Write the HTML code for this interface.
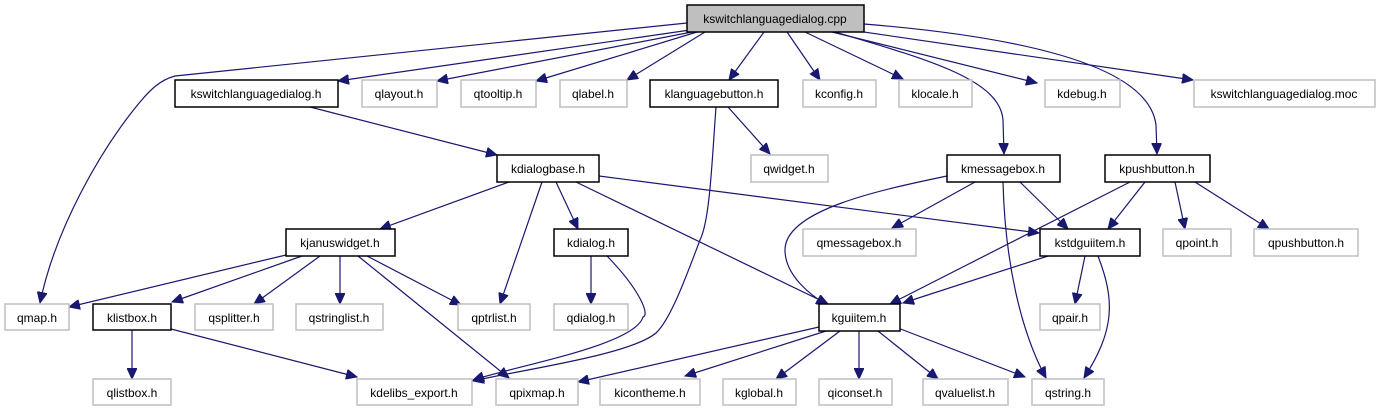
<!DOCTYPE html>
<html><head><meta charset="utf-8"><style>
html,body{margin:0;padding:0;background:#fff;}
svg{display:block;}
text{font-family:"Liberation Sans",sans-serif;font-size:12px;text-anchor:middle;fill:#000;}
.g{fill:#fff;stroke:#bfbfbf;stroke-width:1.5;}
.b{fill:#fff;stroke:#000;stroke-width:1.5;}
.e{fill:none;stroke:#191970;stroke-width:1.2;marker-end:url(#a);}
</style></head><body>
<svg width="1379" height="411" viewBox="0 0 1379 411" xmlns="http://www.w3.org/2000/svg">
<defs><marker id="a" markerUnits="userSpaceOnUse" markerWidth="12" markerHeight="10" refX="11" refY="5" orient="auto"><path d="M0,0 L11,5 L0,10 z" fill="#191970" stroke="#191970"/></marker></defs>
<path class="e" d="M687,23 L175,76 C160,80 150,90 140,102 C100,150 55,230 40,303"/>
<path class="e" d="M690,30 L338,81"/>
<path class="e" d="M692,32 L437,81"/>
<path class="e" d="M697,32 L536,81"/>
<path class="e" d="M705,32 L627,80"/>
<path class="e" d="M764,32 L729,80"/>
<path class="e" d="M787,32 L820,80"/>
<path class="e" d="M805,32 L903,79"/>
<path class="e" d="M835,32 C930,60 1000,80 1003,120 L1004,154"/>
<path class="e" d="M832,32 L1037,83"/>
<path class="e" d="M864,24 C1060,40 1150,75 1156,125 L1157,154"/>
<path class="e" d="M850,30 L1193,80"/>
<path class="e" d="M310,107 L497,155"/>
<path class="e" d="M728,107 L770,154"/>
<path class="e" d="M716,107 C712,160 710,220 700,240 C685,280 670,320 656,333 C630,355 520,370 473,381"/>
<path class="e" d="M607,256 C640,290 650,315 643,317 C635,345 520,365 473,380"/>
<path class="e" d="M509,182 L380,229"/>
<path class="e" d="M542,182 L500,304"/>
<path class="e" d="M556,182 L578,229"/>
<path class="e" d="M576,182 L828,304"/>
<path class="e" d="M599,176 L1039,233"/>
<path class="e" d="M286,255 L69,307"/>
<path class="e" d="M302,256 L172,302"/>
<path class="e" d="M320,256 L254,304"/>
<path class="e" d="M340,256 L340,304"/>
<path class="e" d="M358,256 L509,378"/>
<path class="e" d="M367,256 L461,305"/>
<path class="e" d="M591,256 L591,304"/>
<path class="e" d="M132,330 L132,379"/>
<path class="e" d="M171,329 L357,377"/>
<path class="e" d="M947,176 C880,190 785,210 785,250 C785,275 810,295 827,305"/>
<path class="e" d="M975,182 L892,228"/>
<path class="e" d="M1003,182 C1005,260 1020,330 1046,378"/>
<path class="e" d="M1020,182 L1068,229"/>
<path class="e" d="M1145,182 L1108,229"/>
<path class="e" d="M1130,182 L890,304"/>
<path class="e" d="M1175,182 L1185,229"/>
<path class="e" d="M1195,182 L1269,229"/>
<path class="e" d="M1048,256 L903,303"/>
<path class="e" d="M1085,256 L1075,304"/>
<path class="e" d="M1098,256 C1115,300 1115,330 1084,378"/>
<path class="e" d="M819,327 L578,382"/>
<path class="e" d="M826,331 L685,376"/>
<path class="e" d="M840,331 L776,379"/>
<path class="e" d="M859,331 L859,379"/>
<path class="e" d="M878,331 L938,379"/>
<path class="e" d="M898,328 L1025,377"/>
<rect x="687" y="5" width="177" height="27" fill="#bfbfbf" stroke="#000" stroke-width="1.5"/><text x="775" y="23">kswitchlanguagedialog.cpp</text>
<rect class="b" x="175" y="80" width="163" height="27"/><text x="256" y="98">kswitchlanguagedialog.h</text>
<rect class="g" x="362" y="80" width="75" height="27"/><text x="399" y="98">qlayout.h</text>
<rect class="g" x="461" y="80" width="75" height="27"/><text x="498" y="98">qtooltip.h</text>
<rect class="g" x="560" y="80" width="67" height="27"/><text x="593" y="98">qlabel.h</text>
<rect class="b" x="650" y="80" width="128" height="27"/><text x="714" y="98">klanguagebutton.h</text>
<rect class="g" x="803" y="80" width="73" height="27"/><text x="839" y="98">kconfig.h</text>
<rect class="g" x="899" y="80" width="73" height="27"/><text x="935" y="98">klocale.h</text>
<rect class="g" x="1045" y="80" width="75" height="27"/><text x="1082" y="98">kdebug.h</text>
<rect class="g" x="1194" y="80" width="181" height="27"/><text x="1284" y="98">kswitchlanguagedialog.moc</text>
<rect class="b" x="497" y="155" width="102" height="27"/><text x="548" y="173">kdialogbase.h</text>
<rect class="g" x="751" y="155" width="77" height="27"/><text x="789" y="173">qwidget.h</text>
<rect class="b" x="947" y="155" width="113" height="27"/><text x="1003" y="173">kmessagebox.h</text>
<rect class="b" x="1105" y="155" width="105" height="27"/><text x="1157" y="173">kpushbutton.h</text>
<rect class="b" x="286" y="229" width="109" height="27"/><text x="340" y="247">kjanuswidget.h</text>
<rect class="b" x="554" y="229" width="74" height="27"/><text x="591" y="247">kdialog.h</text>
<rect class="g" x="803" y="229" width="113" height="27"/><text x="859" y="247">qmessagebox.h</text>
<rect class="b" x="1040" y="229" width="100" height="27"/><text x="1090" y="247">kstdguiitem.h</text>
<rect class="g" x="1163" y="229" width="68" height="27"/><text x="1197" y="247">qpoint.h</text>
<rect class="g" x="1254" y="229" width="104" height="27"/><text x="1306" y="247">qpushbutton.h</text>
<rect class="g" x="5" y="304" width="64" height="26"/><text x="37" y="322">qmap.h</text>
<rect class="b" x="93" y="304" width="78" height="26"/><text x="132" y="322">klistbox.h</text>
<rect class="g" x="195" y="304" width="78" height="26"/><text x="234" y="322">qsplitter.h</text>
<rect class="g" x="296" y="304" width="87" height="26"/><text x="339" y="322">qstringlist.h</text>
<rect class="g" x="458" y="304" width="72" height="26"/><text x="494" y="322">qptrlist.h</text>
<rect class="g" x="554" y="304" width="74" height="26"/><text x="591" y="322">qdialog.h</text>
<rect class="b" x="819" y="304" width="81" height="27"/><text x="859" y="322">kguiitem.h</text>
<rect class="g" x="1040" y="304" width="60" height="26"/><text x="1070" y="322">qpair.h</text>
<rect class="g" x="93" y="379" width="78" height="26"/><text x="132" y="397">qlistbox.h</text>
<rect class="g" x="357" y="379" width="115" height="26"/><text x="414" y="397">kdelibs_export.h</text>
<rect class="g" x="496" y="379" width="82" height="26"/><text x="537" y="397">qpixmap.h</text>
<rect class="g" x="600" y="379" width="100" height="26"/><text x="650" y="397">kicontheme.h</text>
<rect class="g" x="723" y="379" width="73" height="26"/><text x="759" y="397">kglobal.h</text>
<rect class="g" x="819" y="379" width="73" height="26"/><text x="855" y="397">qiconset.h</text>
<rect class="g" x="923" y="379" width="85" height="26"/><text x="965" y="397">qvaluelist.h</text>
<rect class="g" x="1032" y="379" width="72" height="26"/><text x="1068" y="397">qstring.h</text>
</svg>
</body></html>
